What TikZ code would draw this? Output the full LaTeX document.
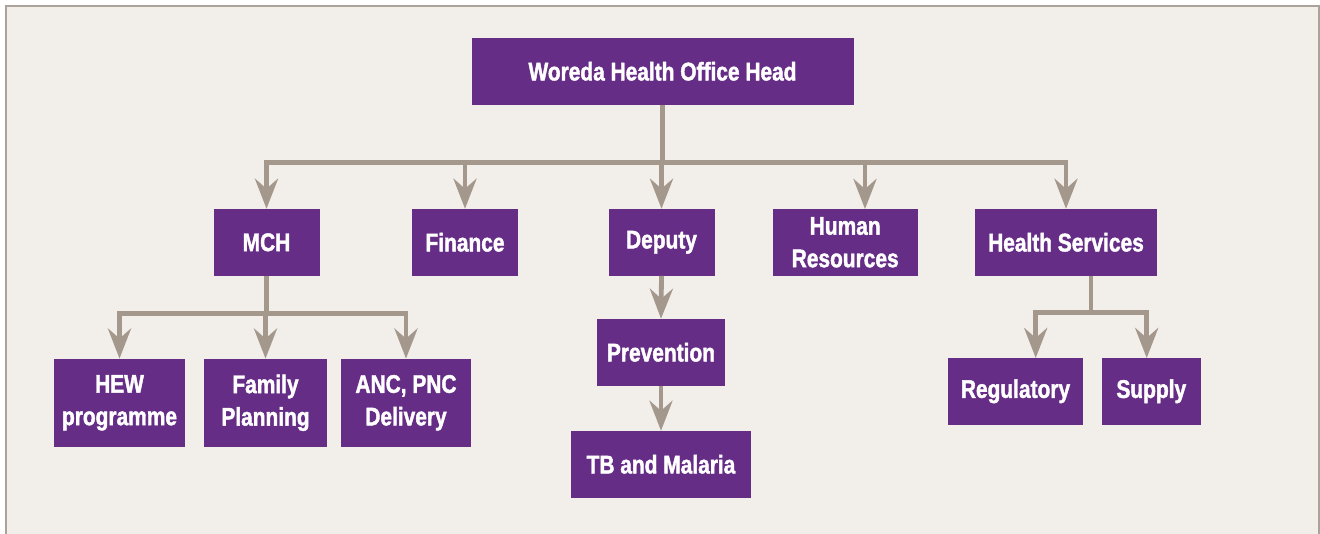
\documentclass[tikz,border=0pt]{standalone}
\usepackage{fontspec}
\newfontfamily\boxfont{Liberation Sans}[FakeStretch=0.82, BoldFeatures={FakeBold=1.6}]
\usetikzlibrary{arrows.meta}
\definecolor{bgc}{RGB}{242,238,234}
\definecolor{framec}{RGB}{172,162,156}
\definecolor{boxc}{RGB}{101,45,134}
\definecolor{linec}{RGB}{164,152,140}
\tikzset{
  orgbox/.style={fill=boxc, text=white, inner sep=0pt, align=center,
    font=\boxfont\bfseries\fontsize{25.5}{32.5}\selectfont},
  conn/.style={draw=linec, line width=4.8pt},
  arr/.style={conn, -{Stealth[length=30pt,width=23pt,inset=10pt]}}
}
\begin{document}
\begin{tikzpicture}[x=1pt,y=-1pt]
\useasboundingbox (0,0) rectangle (1320,533);
\fill[white] (0,0) rectangle (1320,533);
\draw[fill=bgc, draw=framec, line width=1.6pt] (5.8,5.8) rectangle (1319.2,560);

% nodes
\node[orgbox, minimum width=382pt, minimum height=66.7pt] (head) at (662.5,71.3) {Woreda Health Office Head};

\node[orgbox, minimum width=106pt, minimum height=66.7pt] (mch) at (266.5,242.3) {MCH};
\node[orgbox, minimum width=106pt, minimum height=66.7pt] (fin) at (465,242.3) {Finance};
\node[orgbox, minimum width=106pt, minimum height=66.7pt] (dep) at (661.5,242.3) {Deputy};
\node[orgbox, minimum width=145pt, minimum height=66.7pt] (hr) at (845.2,242.3) {Human\\Resources};
\node[orgbox, minimum width=182pt, minimum height=66.7pt] (hs) at (1066,242.3) {Health Services};

\node[orgbox, minimum width=131pt, minimum height=88pt] (hew) at (119.5,402.8) {HEW\\programme};
\node[orgbox, minimum width=123pt, minimum height=88pt] (fp) at (265.5,402.8) {Family\\Planning};
\node[orgbox, minimum width=130pt, minimum height=88pt] (anc) at (406,402.8) {ANC, PNC\\Delivery};

\node[orgbox, minimum width=128pt, minimum height=66.7pt] (prev) at (661,352.3) {Prevention};
\node[orgbox, minimum width=180pt, minimum height=66.7pt] (tb) at (661,464.3) {TB and Malaria};

\node[orgbox, minimum width=135pt, minimum height=66.7pt] (reg) at (1015.5,391.3) {Regulatory};
\node[orgbox, minimum width=99pt, minimum height=66.7pt] (sup) at (1151.3,391.3) {Supply};

% bus coordinates
\coordinate (bus1) at (0,162.7);
\coordinate (bus2) at (0,313.3);
\coordinate (bus3) at (0,312.2);
\coordinate (hrin) at (865,209);
\coordinate (hsout) at (1091,275.6);
\coordinate (regin) at (1035.7,358);
\coordinate (supin) at (1146.7,358);

% connectors
\foreach \c in {mch,fin,dep,hs}{
  \draw[arr] (head.south) -- (head.south |- bus1) -| (\c.north);
}
\draw[arr] (head.south) -- (head.south |- bus1) -| (hrin);
\foreach \c in {hew,fp,anc}{
  \draw[arr] (mch.south) -- (mch.south |- bus2) -| (\c.north);
}
\draw[arr] (dep.south) -- (prev.north);
\draw[arr] (prev.south) -- (tb.north);
\draw[arr] (hsout) -- (hsout |- bus3) -| (regin);
\draw[arr] (hsout) -- (hsout |- bus3) -| (supin);
\end{tikzpicture}
\end{document}
